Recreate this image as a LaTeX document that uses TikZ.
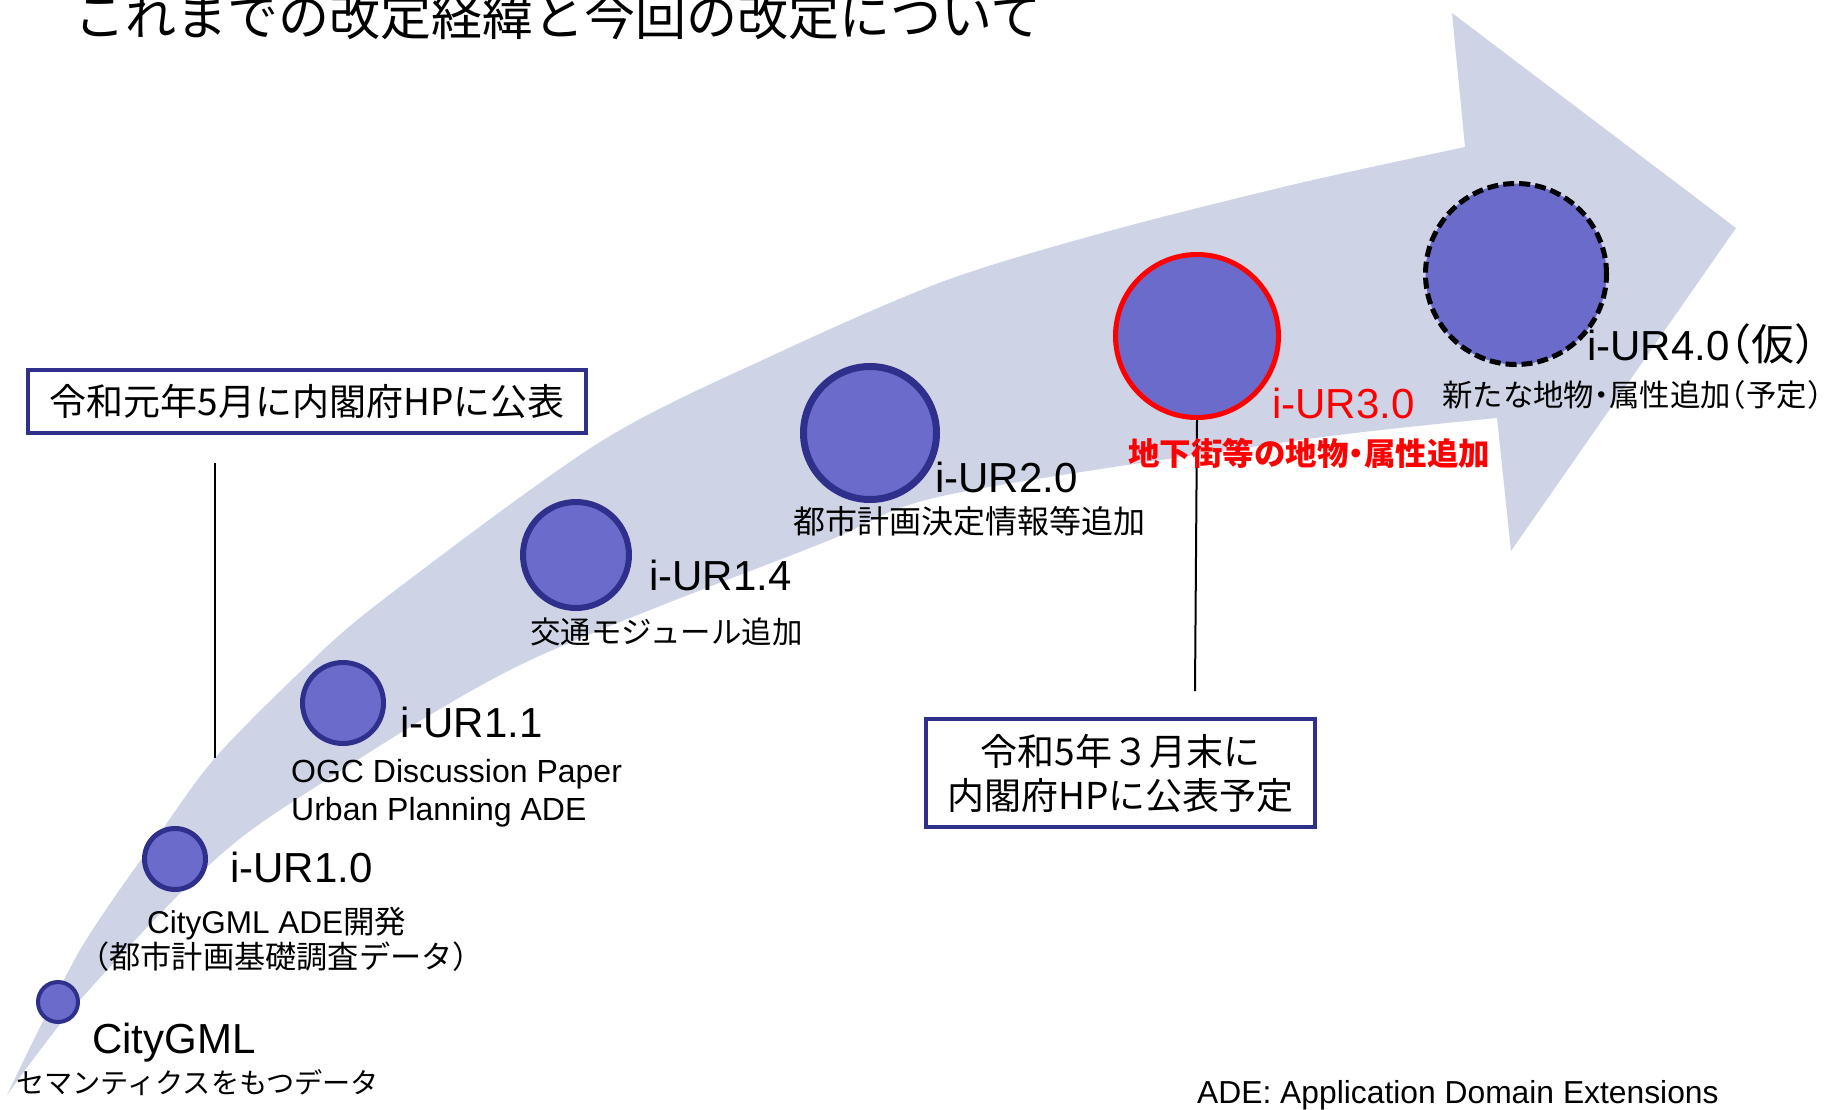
\documentclass[tikz,border=0pt]{standalone}
\usepackage{fontspec}
\setmainfont{Liberation Sans}
\newfontfamily\jp{Noto Sans CJK JP}
\newfontfamily\jph{Noto Sans CJK JP}[RawFeature=+halt]
\definecolor{band}{RGB}{207,211,230}
\definecolor{cfill}{RGB}{107,107,204}
\definecolor{navy}{RGB}{46,48,140}
\definecolor{redc}{RGB}{255,0,0}
\newcommand\fsz[1]{\fontsize{#1}{#1}\selectfont}
\begin{document}
\begin{tikzpicture}[x=1pt,y=-1pt,
  ver/.style={circle, fill=cfill, draw=navy, line width=6pt, inner sep=0pt, minimum size=#1},
  ver/.default=60,
  lbl/.style={anchor=base west, inner sep=0pt, font=\fsz{42}},
  sub/.style={anchor=base west, inner sep=0pt, font=\jp\fsz{#1}},
  sub/.default=30,
  lat/.style={anchor=base west, inner sep=0pt, font=\fsz{#1}},
  note/.style={draw=navy, line width=4pt, fill=white, inner sep=0pt, align=center},
  leader/.style={line width=2pt, black}]
\useasboundingbox (0,0) rectangle (1837,1109);
% big curved arrow
\fill[band] (7,1095) -- plot[smooth,tension=0.5] coordinates {(7,1095) (80,950) (160,833) (215,758) (300,672) (380,602) (600,442) (780,352) (947,280) (1113,230) (1300,183) (1465,147)}
  -- (1452,13) -- (1736,228) -- (1511,551) -- (1497,418)
  -- plot[smooth,tension=0.5] coordinates {(1497,418) (1300,440) (947,495) (820,544) (520,665) (300,797) (207,867) (80,1000) (7,1095)} -- cycle;
% title
\node[sub=51] (title) at (74,35) {これまでの改定経緯と今回の改定について};
% circles
\node[ver=40, line width=4pt] (c0) at (58,1002) {};
\node[ver=61, line width=5pt] (c1) at (175,859) {};
\node[ver=81, line width=5pt] (c2) at (343,703) {};
\node[ver=106] (c3) at (576,555) {};
\node[ver=133, line width=7pt] (c4) at (870,433) {};
\node[ver=163, draw=redc, line width=5pt] (c5) at (1197,336) {};
\node[ver=181, draw=black, line width=5pt, dash pattern=on 11pt off 5pt] (c6) at (1516,274) {};
% leaders
\coordinate (l1a) at (215,463);
\coordinate (l1b) at (215,758);
\draw[leader] (l1a) -- (l1b);
\coordinate (l2b) at (1195,691);
\draw[leader] (c5.south) -- (l2b);
% labels
\node[lbl] (t0) at (92,1053) {CityGML};
\node[sub=28.2] (t0s) at (16,1093) {セマンティクスをもつデータ};
\node[lbl] (t1) at (230,882) {i-UR1.0};
\node[lat=31.5] (t1s) at (147,933) {CityGML ADE{\jp 開発}};
\node[sub=31.2] (t1p) at (78,968) {（都市計画基礎調査データ）};
\node[lbl] (t2) at (400,737) {i-UR1.1};
\node[lat=32] (t2s) at (291,782) {OGC Discussion Paper};
\node[lat=32] (t2t) at (291,820) {Urban Planning ADE};
\node[lbl] (t3) at (649,590) {i-UR1.4};
\node[sub=30.5] (t3s) at (530,643) {交通モジュール追加};
\node[lbl] (t4) at (935,492) {i-UR2.0};
\node[sub=32] (t4s) at (793,533) {都市計画決定情報等追加};
\node[lbl, text=redc] (t5) at (1272,418) {i-UR3.0};
\node[anchor=base west, inner sep=0pt, text=redc, font=\jph\bfseries\fsz{31.5}] (t5s) at (1128,465) {地下街等の地物・属性追加};
\node[lbl] (t6) at (1587,360) {i-UR4.0{\jph\fsz{43}（仮）}};
\node[anchor=base west, inner sep=0pt, font=\jph\fsz{30.4}] (t6s) at (1442,406) {新たな地物・属性追加（予定）};
% notes
\node[note, minimum width=558, minimum height=63, font=\jp\fsz{37}] (b1) at (307,401.5) {令和元年5月に内閣府HPに公表};
\node[note, minimum width=389, minimum height=108, font=\jp\fontsize{37}{44}\selectfont] (b2) at (1120.5,773) {令和5年３月末に\\内閣府HPに公表予定};
\node[lat=31.8] (ade) at (1197,1103) {ADE: Application Domain Extensions};
\end{tikzpicture}
\end{document}
